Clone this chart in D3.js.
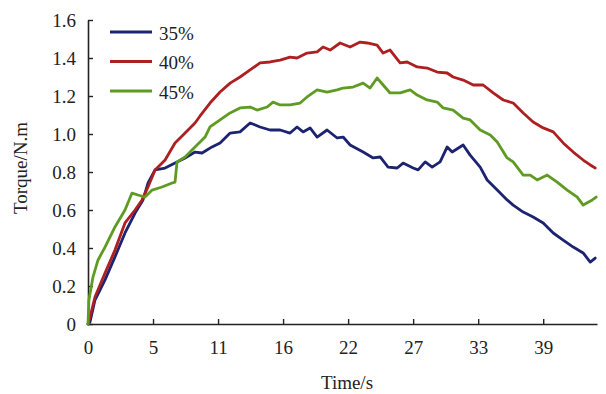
<!DOCTYPE html>
<html>
<head>
<meta charset="utf-8">
<script src="https://cdn.jsdelivr.net/npm/d3@7"></script>
<style>
  html, body { margin: 0; padding: 0; background: #fff; }
  svg { display: block; }
  text { font-family: "Liberation Serif", "Times New Roman", serif; fill: #222; }
</style>
</head>
<body>
<svg id="chart" width="606" height="394"></svg>
<script>
// ---- data (time in s, torque in N.m) ----
const seriesNames = ["35%", "40%", "45%"];
const seriesColors = ["#1c2370", "#ad1f20", "#5f9b23"];

const time35 = [0,0.17,0.59,1.44,2.28,3.13,3.98,4.65,5.08,5.67,6.52,7.36,8.21,9.05,9.65,10.49,11.17,12.02,12.86,13.71,14.55,15.40,16.25,17.09,17.68,18.19,18.78,19.38,20.22,21.07,21.58,22.17,23.27,24.12,24.71,25.38,26.15,26.65,27.50,27.92,28.52,29.11,29.78,30.38,30.80,31.73,32.32,33.17,33.76,34.61,35.45,35.96,36.81,37.65,38.50,39.35,40.19,41.04,41.88,42.48,42.90];
const torque35 = [0,0.011,0.126,0.232,0.353,0.479,0.584,0.653,0.742,0.811,0.821,0.847,0.874,0.905,0.900,0.932,0.953,1.005,1.011,1.058,1.037,1.021,1.021,1.005,1.037,1.011,1.032,0.984,1.021,0.979,0.984,0.942,0.905,0.874,0.879,0.826,0.821,0.847,0.821,0.811,0.853,0.826,0.853,0.932,0.905,0.942,0.889,0.826,0.758,0.705,0.653,0.626,0.589,0.563,0.532,0.479,0.442,0.405,0.374,0.326,0.347];

const time40 = [0,0.17,0.59,1.44,2.28,3.13,3.98,4.57,5.08,5.67,6.52,7.36,8.21,9.05,9.48,10.32,11.17,12.02,12.86,13.71,14.55,15.40,16.25,17.09,17.68,18.53,19.38,19.88,20.48,21.32,22.17,23.02,23.61,24.45,24.96,25.55,26.40,26.99,27.84,28.68,29.53,30.38,30.88,31.73,32.58,33.42,34.27,35.12,35.96,36.81,37.65,38.50,39.35,40.19,41.04,41.88,42.48,42.90];
const torque40 = [0,0.037,0.142,0.268,0.389,0.532,0.600,0.653,0.721,0.811,0.863,0.953,1.005,1.058,1.095,1.163,1.221,1.268,1.300,1.337,1.374,1.379,1.389,1.405,1.400,1.426,1.432,1.458,1.442,1.479,1.458,1.484,1.479,1.468,1.426,1.442,1.374,1.379,1.353,1.347,1.326,1.321,1.300,1.284,1.258,1.258,1.216,1.179,1.163,1.111,1.063,1.032,1.011,0.953,0.905,0.863,0.837,0.821];

const time45 = [0,0.08,0.42,0.85,1.44,2.28,3.13,3.72,4.23,4.82,5.42,6.26,7.11,7.36,7.53,8.21,9.05,9.90,10.32,11.17,12.02,12.86,13.71,14.30,15.15,15.65,16.25,17.09,17.94,18.53,19.38,20.22,21.07,21.58,22.42,23.27,23.86,24.45,24.96,25.55,26.40,27.25,27.84,28.68,29.53,30.04,30.88,31.73,32.32,33.17,34.02,34.61,35.45,35.96,36.81,37.40,37.99,38.84,39.68,40.53,41.38,41.88,42.65,42.98];
const torque45 = [0,0.126,0.247,0.337,0.405,0.511,0.600,0.689,0.679,0.668,0.705,0.721,0.742,0.747,0.853,0.879,0.932,0.984,1.037,1.074,1.111,1.137,1.142,1.126,1.142,1.168,1.153,1.153,1.163,1.195,1.232,1.221,1.232,1.242,1.247,1.268,1.242,1.295,1.258,1.216,1.216,1.232,1.205,1.179,1.168,1.137,1.126,1.084,1.074,1.021,0.995,0.958,0.874,0.853,0.784,0.784,0.758,0.784,0.747,0.705,0.668,0.626,0.653,0.668];

const xTickValues = [0, 5.5, 11, 16.5, 22, 27.5, 33, 38.5];
const xTickLabels = ["0", "5", "11", "16", "22", "27", "33", "39"];
const yTickValues = [0, 0.2, 0.4, 0.6, 0.8, 1.0, 1.2, 1.4, 1.6];
const yTickLabels = ["0", "0.2", "0.4", "0.6", "0.8", "1.0", "1.2", "1.4", "1.6"];

const xTitle = "Time/s";
const yTitle = "Torque/N.m";

// ---- layout ----
const svg = d3.select("#chart");
const mLeft = 88, mRight = 597, mTop = 20, mBottom = 324;
const fontSize = 19;

const x = d3.scaleLinear().domain([0, 43.05]).range([mLeft, mRight]);
const y = d3.scaleLinear().domain([0, 1.6]).range([mBottom, mTop]);

const series = [
  { name: seriesNames[0], color: seriesColors[0], t: time35, v: torque35 },
  { name: seriesNames[1], color: seriesColors[1], t: time40, v: torque40 },
  { name: seriesNames[2], color: seriesColors[2], t: time45, v: torque45 }
];

// axes
const xAxis = d3.axisBottom(x)
  .tickValues(xTickValues)
  .tickFormat((d, i) => xTickLabels[i])
  .tickSizeInner(-5).tickSizeOuter(0).tickPadding(17);
const yAxis = d3.axisLeft(y)
  .tickValues(yTickValues)
  .tickFormat((d, i) => yTickLabels[i])
  .tickSizeInner(-5).tickSizeOuter(0).tickPadding(12);

const gx = svg.append("g").attr("transform", `translate(0,${mBottom})`).call(xAxis);
const gy = svg.append("g").attr("transform", `translate(${mLeft},0)`).call(yAxis);
[gx, gy].forEach(g => {
  g.attr("font-size", fontSize).attr("font-family", "Liberation Serif, Times New Roman, serif");
  g.select(".domain").attr("stroke", "#222").attr("stroke-width", 1.6);
  g.selectAll(".tick line").attr("stroke", "#222").attr("stroke-width", 1.4);
  g.selectAll(".tick text").attr("fill", "#222");
});

// lines
const line = d3.line().x(d => x(d[0])).y(d => y(d[1]));
series.forEach(s => {
  const pts = s.t.map((t, i) => [t, s.v[i]]);
  svg.append("path")
    .attr("d", line(pts))
    .attr("fill", "none")
    .attr("stroke", s.color)
    .attr("stroke-width", 2.8)
    .attr("stroke-linejoin", "round")
    .attr("stroke-linecap", "round");
});

// axis titles
svg.append("text")
  .attr("x", 347).attr("y", 389)
  .attr("text-anchor", "middle")
  .attr("font-size", fontSize)
  .text(xTitle);
svg.append("text")
  .attr("transform", "translate(27,168) rotate(-90)")
  .attr("text-anchor", "middle")
  .attr("font-size", fontSize)
  .text(yTitle);

// legend
const legend = svg.append("g");
series.forEach((s, i) => {
  const ly = 32 + i * 29.5;
  legend.append("line")
    .attr("x1", 110).attr("x2", 152)
    .attr("y1", ly).attr("y2", ly)
    .attr("stroke", s.color).attr("stroke-width", 3);
  legend.append("text")
    .attr("x", 159).attr("y", ly + 7.5)
    .attr("font-size", fontSize)
    .text(s.name);
});
</script>
</body>
</html>
